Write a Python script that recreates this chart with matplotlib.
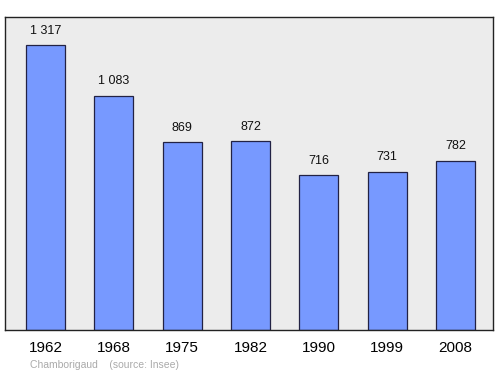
import matplotlib
matplotlib.use("Agg")
import matplotlib.pyplot as plt
import numpy as np

plt.rcParams['font.family'] = ['Liberation Sans', 'DejaVu Sans']

years = ["1962", "1968", "1975", "1982", "1990", "1999", "2008"]
population = [1317, 1083, 869, 872, 716, 731, 782]
value_labels = ["1 317", "1 083", "869", "872", "716", "731", "782"]

fig = plt.figure(figsize=(5, 3.74), dpi=100)
ax = fig.add_axes([5 / 500, 1 - 330 / 374, 488 / 500, 313 / 374])
ax.set_facecolor('#ececec')

x = np.arange(len(years))
bars = ax.bar(x, population, width=0.57, color='#7799ff', edgecolor='#222244', linewidth=0.9)

for xi, val, lab in zip(x, population, value_labels):
    ax.annotate(lab, (xi, val), xytext=(0, 6), textcoords='offset points',
                ha='center', va='bottom', fontsize=9, color='#111111')

ax.set_xlim(-0.593, 6.55)
ax.set_ylim(0, 1446)
ax.set_xticks(x)
ax.set_xticklabels(years, fontsize=11)
ax.tick_params(axis='x', length=0, pad=8)
ax.set_yticks([])
for s in ax.spines.values():
    s.set_color('#222222')
    s.set_linewidth(1.0)

fig.text(30 / 500, 1 - 365 / 374, "Chamborigaud    (source: Insee)", fontsize=7.5,
         color='#aaaaaa', ha='left', va='center')

fig.savefig('out.png', dpi=100)
